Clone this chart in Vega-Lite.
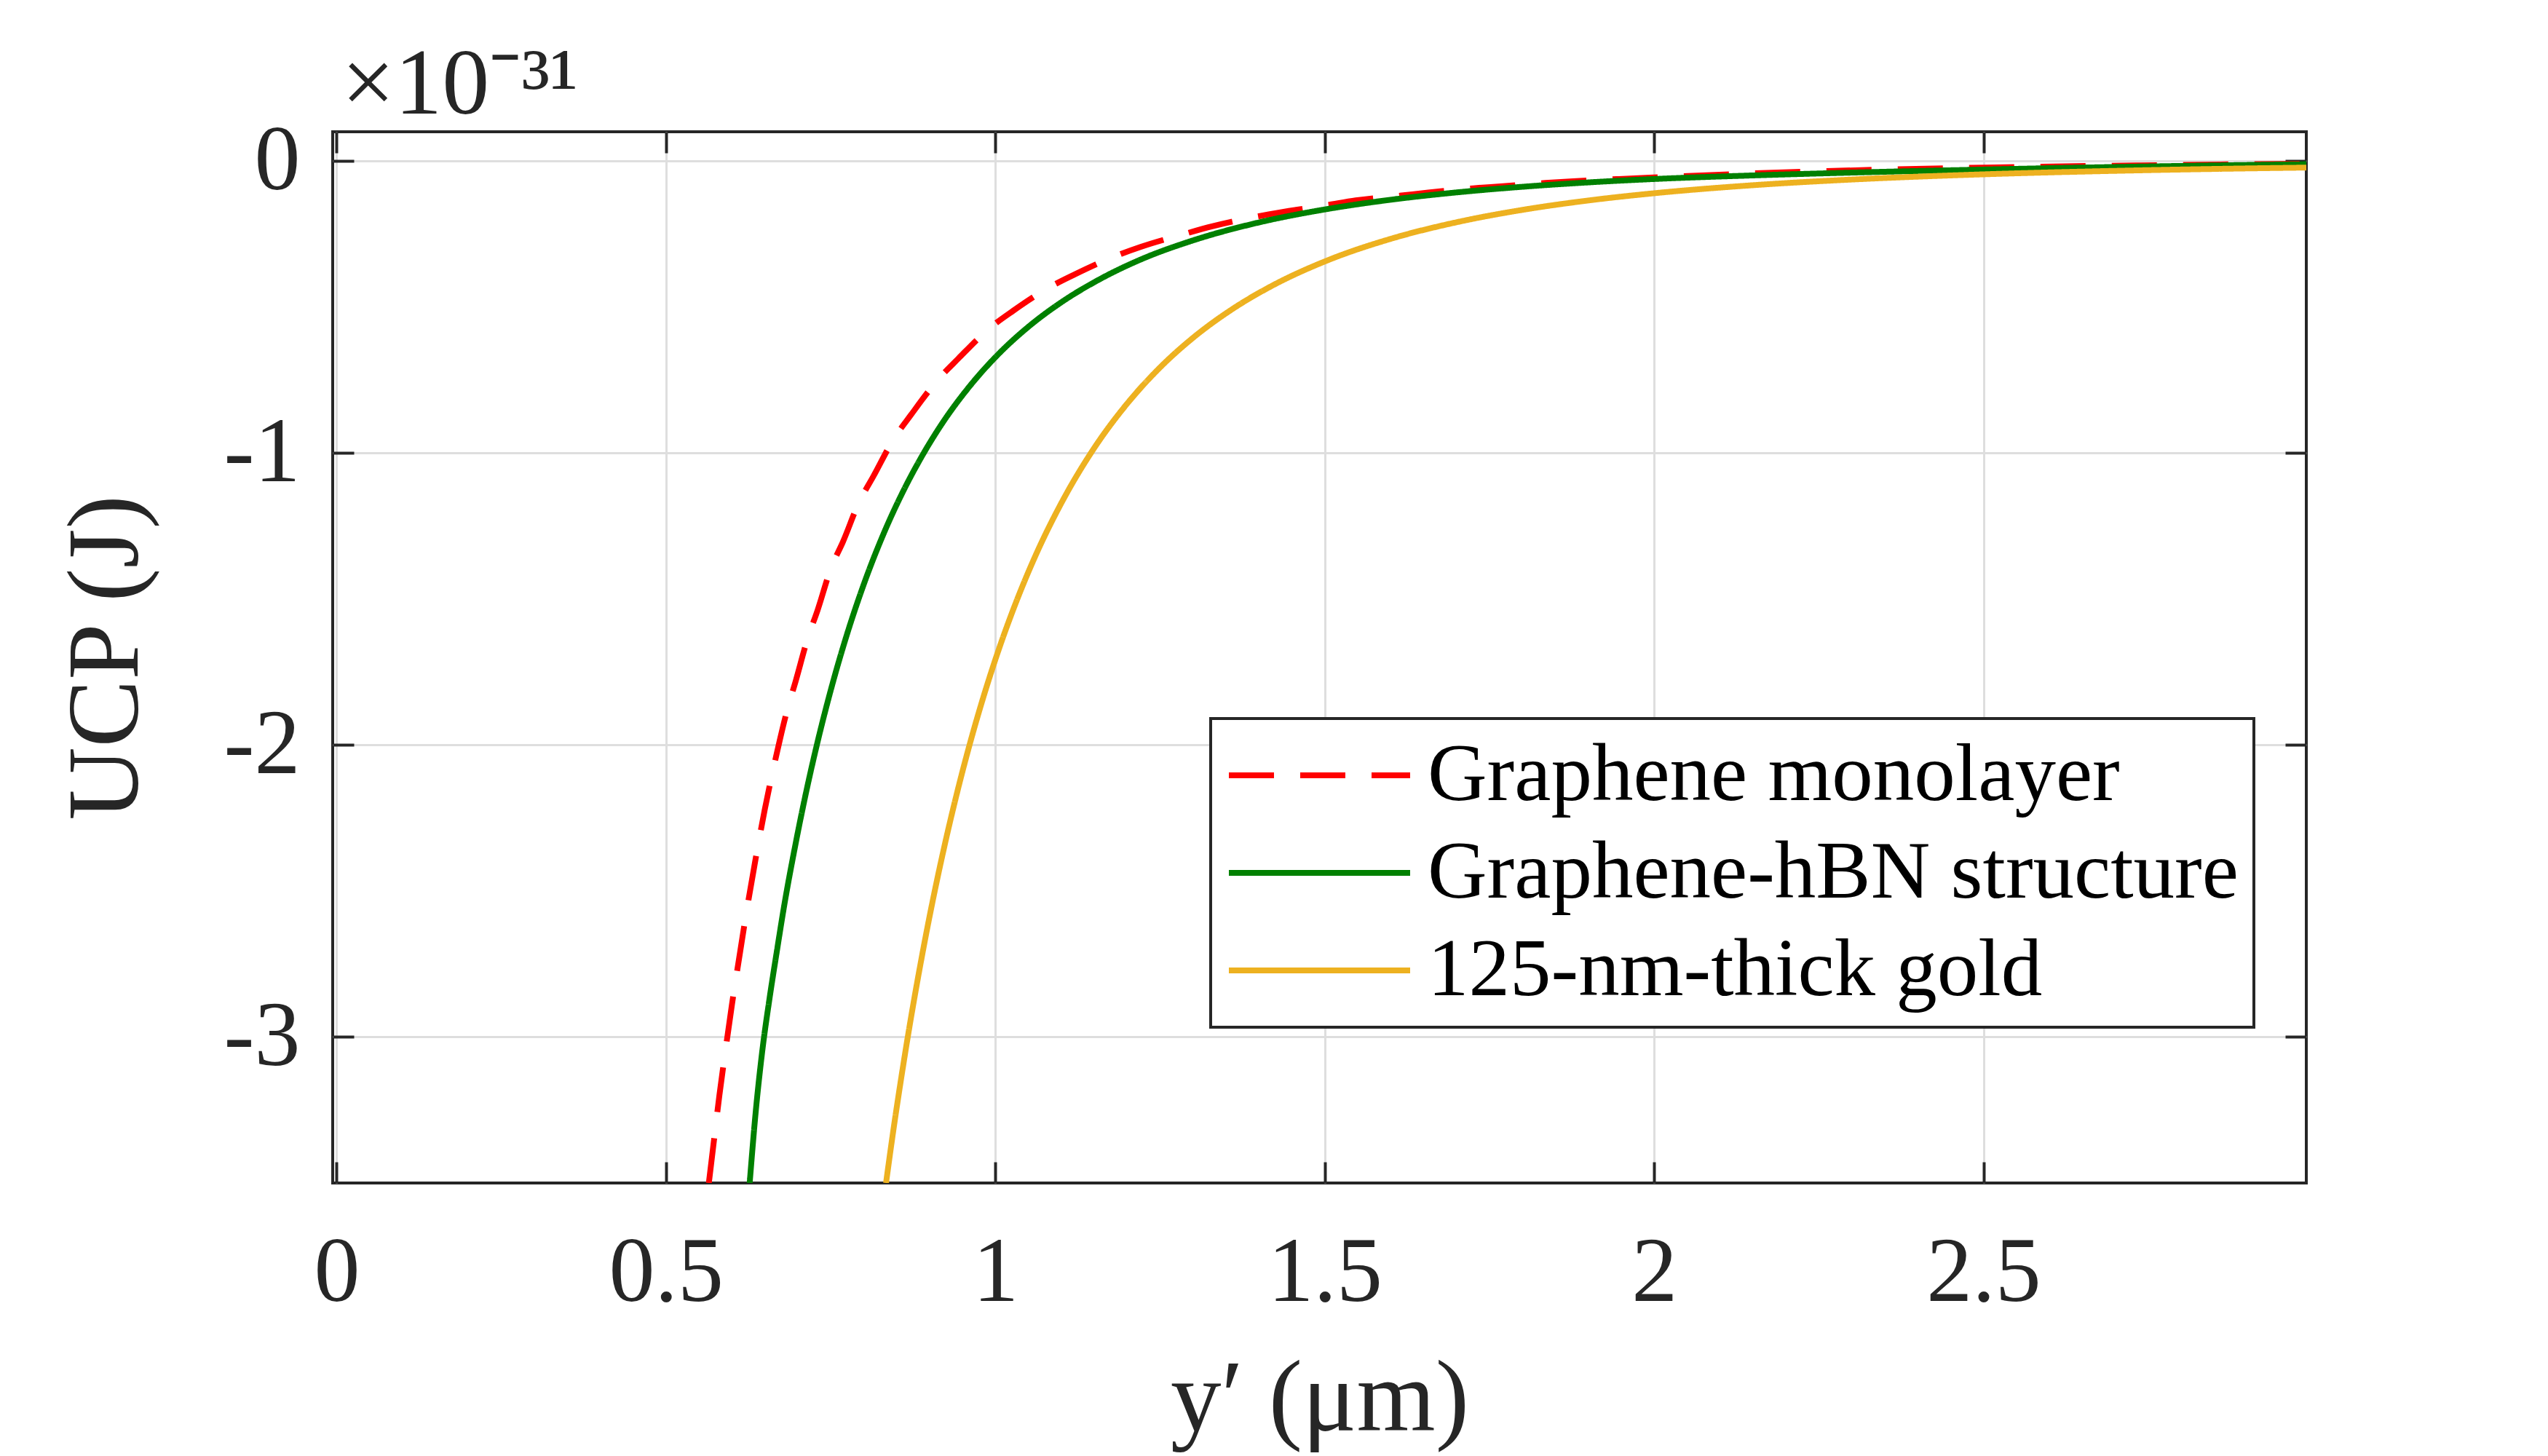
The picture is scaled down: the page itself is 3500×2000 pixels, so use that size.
{
  "$schema": "https://vega.github.io/schema/vega-lite/v6.json",
  "width": 2711,
  "height": 1444,
  "autosize": "none",
  "padding": {"left": 457, "top": 181, "right": 332, "bottom": 375},
  "background": "white",
  "title": {
    "text": "×10⁻³¹",
    "anchor": "start",
    "frame": "group",
    "font": "Liberation Serif",
    "fontSize": 130,
    "fontWeight": "normal",
    "color": "#262626",
    "offset": 0,
    "dx": 12,
    "dy": 25
  },
  "data": {
    "values": [
      {"material": "Graphene monolayer", "distance": 0.565, "U": -3.5},
      {"material": "Graphene monolayer", "distance": 0.573, "U": -3.35},
      {"material": "Graphene monolayer", "distance": 0.581, "U": -3.2},
      {"material": "Graphene monolayer", "distance": 0.59, "U": -3.05},
      {"material": "Graphene monolayer", "distance": 0.6, "U": -2.89},
      {"material": "Graphene monolayer", "distance": 0.611, "U": -2.73},
      {"material": "Graphene monolayer", "distance": 0.623, "U": -2.56},
      {"material": "Graphene monolayer", "distance": 0.636, "U": -2.39},
      {"material": "Graphene monolayer", "distance": 0.65, "U": -2.22},
      {"material": "Graphene monolayer", "distance": 0.666, "U": -2.05},
      {"material": "Graphene monolayer", "distance": 0.684, "U": -1.88},
      {"material": "Graphene monolayer", "distance": 0.697, "U": -1.78},
      {"material": "Graphene monolayer", "distance": 0.715, "U": -1.635},
      {"material": "Graphene monolayer", "distance": 0.73, "U": -1.539},
      {"material": "Graphene monolayer", "distance": 0.75, "U": -1.397},
      {"material": "Graphene monolayer", "distance": 0.769, "U": -1.302},
      {"material": "Graphene monolayer", "distance": 0.793, "U": -1.169},
      {"material": "Graphene monolayer", "distance": 0.815, "U": -1.079},
      {"material": "Graphene monolayer", "distance": 0.846, "U": -0.951},
      {"material": "Graphene monolayer", "distance": 0.872, "U": -0.869},
      {"material": "Graphene monolayer", "distance": 0.912, "U": -0.751},
      {"material": "Graphene monolayer", "distance": 0.944, "U": -0.676},
      {"material": "Graphene monolayer", "distance": 0.991, "U": -0.573},
      {"material": "Graphene monolayer", "distance": 1.027, "U": -0.513},
      {"material": "Graphene monolayer", "distance": 1.081, "U": -0.434},
      {"material": "Graphene monolayer", "distance": 1.12, "U": -0.389},
      {"material": "Graphene monolayer", "distance": 1.182, "U": -0.326},
      {"material": "Graphene monolayer", "distance": 1.221, "U": -0.294},
      {"material": "Graphene monolayer", "distance": 1.287, "U": -0.25},
      {"material": "Graphene monolayer", "distance": 1.329, "U": -0.224},
      {"material": "Graphene monolayer", "distance": 1.394, "U": -0.192},
      {"material": "Graphene monolayer", "distance": 1.436, "U": -0.175},
      {"material": "Graphene monolayer", "distance": 1.504, "U": -0.151},
      {"material": "Graphene monolayer", "distance": 1.547, "U": -0.135},
      {"material": "Graphene monolayer", "distance": 1.614, "U": -0.119},
      {"material": "Graphene monolayer", "distance": 1.657, "U": -0.108},
      {"material": "Graphene monolayer", "distance": 1.725, "U": -0.0935},
      {"material": "Graphene monolayer", "distance": 1.767, "U": -0.0868},
      {"material": "Graphene monolayer", "distance": 1.835, "U": -0.0754},
      {"material": "Graphene monolayer", "distance": 1.877, "U": -0.0697},
      {"material": "Graphene monolayer", "distance": 1.945, "U": -0.062},
      {"material": "Graphene monolayer", "distance": 1.987, "U": -0.0575},
      {"material": "Graphene monolayer", "distance": 2.034, "U": -0.053},
      {"material": "Graphene monolayer", "distance": 2.12, "U": -0.045},
      {"material": "Graphene monolayer", "distance": 2.224, "U": -0.037},
      {"material": "Graphene monolayer", "distance": 2.35, "U": -0.0295},
      {"material": "Graphene monolayer", "distance": 2.5, "U": -0.0228},
      {"material": "Graphene monolayer", "distance": 2.62, "U": -0.0185},
      {"material": "Graphene monolayer", "distance": 2.732, "U": -0.0153},
      {"material": "Graphene monolayer", "distance": 2.86, "U": -0.012},
      {"material": "Graphene monolayer", "distance": 2.99, "U": -0.0095},
      {"material": "Graphene-hBN structure", "distance": 0.627, "U": -3.5},
      {"material": "Graphene-hBN structure", "distance": 0.636, "U": -3.26},
      {"material": "Graphene-hBN structure", "distance": 0.646, "U": -3.05},
      {"material": "Graphene-hBN structure", "distance": 0.657, "U": -2.87},
      {"material": "Graphene-hBN structure", "distance": 0.668, "U": -2.71},
      {"material": "Graphene-hBN structure", "distance": 0.68, "U": -2.542},
      {"material": "Graphene-hBN structure", "distance": 0.695, "U": -2.358},
      {"material": "Graphene-hBN structure", "distance": 0.71, "U": -2.19},
      {"material": "Graphene-hBN structure", "distance": 0.73, "U": -1.99},
      {"material": "Graphene-hBN structure", "distance": 0.75, "U": -1.813},
      {"material": "Graphene-hBN structure", "distance": 0.775, "U": -1.619},
      {"material": "Graphene-hBN structure", "distance": 0.8, "U": -1.451},
      {"material": "Graphene-hBN structure", "distance": 0.83, "U": -1.278},
      {"material": "Graphene-hBN structure", "distance": 0.86, "U": -1.131},
      {"material": "Graphene-hBN structure", "distance": 0.89, "U": -1.005},
      {"material": "Graphene-hBN structure", "distance": 0.92, "U": -0.896},
      {"material": "Graphene-hBN structure", "distance": 0.96, "U": -0.774},
      {"material": "Graphene-hBN structure", "distance": 1.0, "U": -0.672},
      {"material": "Graphene-hBN structure", "distance": 1.05, "U": -0.568},
      {"material": "Graphene-hBN structure", "distance": 1.1, "U": -0.484},
      {"material": "Graphene-hBN structure", "distance": 1.16, "U": -0.403},
      {"material": "Graphene-hBN structure", "distance": 1.22, "U": -0.338},
      {"material": "Graphene-hBN structure", "distance": 1.3, "U": -0.272},
      {"material": "Graphene-hBN structure", "distance": 1.4, "U": -0.2105},
      {"material": "Graphene-hBN structure", "distance": 1.5, "U": -0.166},
      {"material": "Graphene-hBN structure", "distance": 1.6, "U": -0.1328},
      {"material": "Graphene-hBN structure", "distance": 1.7, "U": -0.1077},
      {"material": "Graphene-hBN structure", "distance": 1.8, "U": -0.0884},
      {"material": "Graphene-hBN structure", "distance": 1.9, "U": -0.0734},
      {"material": "Graphene-hBN structure", "distance": 2.0, "U": -0.0618},
      {"material": "Graphene-hBN structure", "distance": 2.15, "U": -0.0495},
      {"material": "Graphene-hBN structure", "distance": 2.3, "U": -0.0398},
      {"material": "Graphene-hBN structure", "distance": 2.5, "U": -0.0294},
      {"material": "Graphene-hBN structure", "distance": 2.62, "U": -0.0238},
      {"material": "Graphene-hBN structure", "distance": 2.732, "U": -0.0194},
      {"material": "Graphene-hBN structure", "distance": 2.86, "U": -0.015},
      {"material": "Graphene-hBN structure", "distance": 2.99, "U": -0.0111},
      {"material": "125-nm-thick gold", "distance": 0.834, "U": -3.5},
      {"material": "125-nm-thick gold", "distance": 0.845, "U": -3.321},
      {"material": "125-nm-thick gold", "distance": 0.857, "U": -3.141},
      {"material": "125-nm-thick gold", "distance": 0.87, "U": -2.959},
      {"material": "125-nm-thick gold", "distance": 0.885, "U": -2.766},
      {"material": "125-nm-thick gold", "distance": 0.9, "U": -2.588},
      {"material": "125-nm-thick gold", "distance": 0.92, "U": -2.373},
      {"material": "125-nm-thick gold", "distance": 0.94, "U": -2.18},
      {"material": "125-nm-thick gold", "distance": 0.96, "U": -2.006},
      {"material": "125-nm-thick gold", "distance": 0.98, "U": -1.849},
      {"material": "125-nm-thick gold", "distance": 1.0, "U": -1.707},
      {"material": "125-nm-thick gold", "distance": 1.03, "U": -1.519},
      {"material": "125-nm-thick gold", "distance": 1.06, "U": -1.356},
      {"material": "125-nm-thick gold", "distance": 1.1, "U": -1.172},
      {"material": "125-nm-thick gold", "distance": 1.15, "U": -0.983},
      {"material": "125-nm-thick gold", "distance": 1.2, "U": -0.831},
      {"material": "125-nm-thick gold", "distance": 1.25, "U": -0.707},
      {"material": "125-nm-thick gold", "distance": 1.3, "U": -0.6056},
      {"material": "125-nm-thick gold", "distance": 1.36, "U": -0.5068},
      {"material": "125-nm-thick gold", "distance": 1.42, "U": -0.4273},
      {"material": "125-nm-thick gold", "distance": 1.5, "U": -0.3441},
      {"material": "125-nm-thick gold", "distance": 1.6, "U": -0.2667},
      {"material": "125-nm-thick gold", "distance": 1.7, "U": -0.2099},
      {"material": "125-nm-thick gold", "distance": 1.8, "U": -0.1675},
      {"material": "125-nm-thick gold", "distance": 1.9, "U": -0.1353},
      {"material": "125-nm-thick gold", "distance": 2.0, "U": -0.1105},
      {"material": "125-nm-thick gold", "distance": 2.15, "U": -0.083},
      {"material": "125-nm-thick gold", "distance": 2.3, "U": -0.0636},
      {"material": "125-nm-thick gold", "distance": 2.5, "U": -0.0457},
      {"material": "125-nm-thick gold", "distance": 2.7, "U": -0.0338},
      {"material": "125-nm-thick gold", "distance": 2.85, "U": -0.0273},
      {"material": "125-nm-thick gold", "distance": 2.99, "U": -0.0226}
    ]
  },
  "layer": [
    {
      "mark": {"type": "line", "strokeWidth": 8, "clip": true, "interpolate": "monotone"},
      "encoding": {
        "x": {
          "field": "distance",
          "type": "quantitative",
          "scale": {"domain": [-0.006, 2.99], "nice": false, "zero": false},
          "axis": {
            "orient": "bottom",
            "values": [0, 0.5, 1, 1.5, 2, 2.5],
            "labelExpr": "'' + datum.value",
            "title": "y′ (μm)",
            "tickSize": -29,
            "labelPadding": 90,
            "titlePadding": 43
          }
        },
        "y": {
          "field": "U",
          "type": "quantitative",
          "scale": {"domain": [-3.5, 0.1], "nice": false, "zero": false},
          "axis": {
            "orient": "left",
            "values": [0, -1, -2, -3],
            "labelExpr": "'' + datum.value",
            "title": "UCP (J)",
            "tickSize": -29,
            "labelPadding": 74,
            "titlePadding": 90
          }
        },
        "color": {
          "field": "material",
          "type": "nominal",
          "scale": {
            "domain": ["Graphene monolayer", "Graphene-hBN structure", "125-nm-thick gold"],
            "range": ["#ff0000", "#008000", "#edb120"]
          },
          "legend": {"title": null}
        },
        "strokeDash": {
          "field": "material",
          "type": "nominal",
          "scale": {
            "domain": ["Graphene monolayer", "Graphene-hBN structure", "125-nm-thick gold"],
            "range": [[62, 36], [1, 0], [1, 0]]
          },
          "legend": {"title": null}
        }
      }
    },
    {
      "mark": {"type": "line", "strokeOpacity": 0},
      "encoding": {
        "x": {
          "field": "distance",
          "type": "quantitative",
          "axis": {
            "orient": "top",
            "values": [0, 0.5, 1, 1.5, 2, 2.5],
            "labels": false,
            "grid": false,
            "title": null,
            "tickSize": -29
          }
        },
        "y": {
          "field": "U",
          "type": "quantitative",
          "axis": {
            "orient": "right",
            "values": [0, -1, -2, -3],
            "labels": false,
            "grid": false,
            "title": null,
            "tickSize": -29
          }
        },
        "detail": {"field": "material", "type": "nominal"}
      }
    }
  ],
  "resolve": {"axis": {"x": "independent", "y": "independent"}},
  "config": {
    "view": {"stroke": "#262626", "strokeWidth": 4},
    "axis": {
      "domain": false,
      "grid": true,
      "gridColor": "#dedede",
      "gridWidth": 3,
      "tickColor": "#262626",
      "tickWidth": 4,
      "labelFont": "Liberation Serif",
      "labelFontSize": 126,
      "labelColor": "#262626",
      "titleFont": "Liberation Serif",
      "titleFontSize": 139,
      "titleFontWeight": "normal",
      "titleColor": "#262626"
    },
    "legend": {
      "orient": "none",
      "legendX": 1206,
      "legendY": 806,
      "direction": "vertical",
      "fillColor": "white",
      "strokeColor": "#262626",
      "strokeWidth": 4,
      "padding": 21,
      "symbolType": "stroke",
      "symbolSize": 62000,
      "symbolStrokeWidth": 8,
      "clipHeight": 114,
      "labelFont": "Liberation Serif",
      "labelFontSize": 113,
      "labelColor": "black",
      "labelOffset": 20,
      "labelLimit": 2000,
      "rowPadding": 20
    }
  }
}
